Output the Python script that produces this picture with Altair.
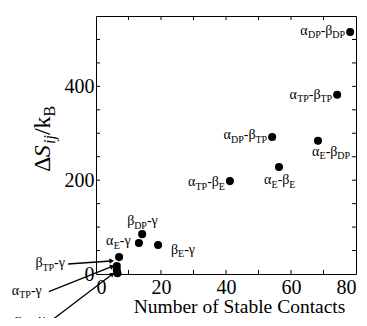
import math
import altair as alt
import pandas as pd

# ---------------- data ----------------
contacts = [78.2, 74.2, 54.2, 68.3, 56.3, 41.2, 14.2, 13.2, 19.1, 7.1, 6.4, 6.4, 6.6]
entropy = [516, 382, 292, 284, 228, 198, 85, 66, 62, 36, 17, 8.5, 1.5]
pair_labels = ["α_{DP}-β_{DP}", "α_{TP}-β_{TP}", "α_{DP}-β_{TP}", "α_{E}-β_{DP}",
               "α_{E}-β_{E}", "α_{TP}-β_{E}", "β_{DP}-γ", "", "β_{E}-γ", "α_{E}-γ",
               "β_{TP}-γ", "α_{TP}-γ", "α_{DP}-γ"]

# arrows for the crowded points near the origin (annotation positions, data units)
arrow_for = [10, 11, 12]
arrow_tail_x = [-8.6, -14.5, -13.5]
arrow_tail_y = [21.3, -37.7, -98.0]
arrow_tip_x = [4.6, 4.8, 4.9]
arrow_tip_y = [27.7, 15.6, -1.1]

x_label_values = [0, 20, 40, 60, 80]
y_label_values = [0, 200, 400]
x_minor = [10, 20, 30, 40, 50, 60, 70]
y_minor = [50, 100, 150, 200, 250, 300, 350, 400, 450, 500]

# ---------------- styles ----------------
W, H = 260, 258
XDOM, YDOM = [0, 80], [0, 550]
PXX, PXY = W / (XDOM[1] - XDOM[0]), H / (YDOM[1] - YDOM[0])
FONT = "Liberation Serif"
MAIN, SUB, SUBSHIFT = 14, 10, 3.5
# label placement relative to point (align, dx, dy) in pixels
placement = [("right", -5, 3), ("right", -5, 4), ("right", -5, 2), ("left", -6, 15),
             ("left", -15, 17), ("right", -5, 5), ("left", -15, -9), None,
             ("left", 13, 9), ("left", -13, -12),
             ("right", -3, 3), ("right", -7, 3), ("right", -7, 4)]
EM = {"α": 0.54, "β": 0.5, "γ": 0.45, "-": 0.333, "D": 0.722, "P": 0.556, "T": 0.611,
      "E": 0.611, "Δ": 0.612, "S": 0.556, "i": 0.278, "j": 0.278, "/": 0.278, "k": 0.5,
      "B": 0.667}


def parse(s):
    segs, i = [], 0
    while i < len(s):
        if s[i] == "_" and s[i + 1] == "{":
            j = s.index("}", i)
            segs.append((s[i + 2:j], True))
            i = j + 1
        else:
            j = i
            while j < len(s) and s[j] != "_":
                j += 1
            segs.append((s[i:j], False))
            i = j
    return segs


def width(t, size):
    return sum(EM.get(c, 0.5) for c in t) * size


x_sc = alt.Scale(domain=XDOM, nice=False, zero=False)
y_sc = alt.Scale(domain=YDOM, nice=False, zero=False)

pts = pd.DataFrame({"contacts": contacts, "entropy": entropy})

rows = []
for i, lab in enumerate(pair_labels):
    if not lab:
        continue
    align, dx, dy = placement[i]
    if i in arrow_for:
        k = arrow_for.index(i)
        ax, ay = arrow_tail_x[k], arrow_tail_y[k]
    else:
        ax, ay = contacts[i], entropy[i]
    segs = parse(lab)
    total = sum(width(t, SUB if s else MAIN) for t, s in segs)
    cur = dx if align == "left" else dx - total
    for t, s in segs:
        size = SUB if s else MAIN
        yo = dy + (SUBSHIFT if s else 0)
        rows.append({"x": ax + cur / PXX, "y": ay - yo / PXY, "size": size, "t": t})
        cur += width(t, size)
lab_df = pd.DataFrame(rows)

arr = pd.DataFrame({"x": arrow_tail_x, "y": arrow_tail_y, "x2": arrow_tip_x, "y2": arrow_tip_y})
arr["ang"] = [math.degrees(math.atan2((b - a) * PXX, (d - c) * PXY))
              for a, b, c, d in zip(arrow_tail_x, arrow_tip_x, arrow_tail_y, arrow_tip_y)]

# y title segments (rotated, reading upward), anchored in plot pixels
TX, TY = -46, 156
title_segs = [("Δ", False, False), ("S", False, True), ("ij", True, True), ("/", False, False),
              ("k", False, False), ("B", True, False)]
TMAIN, TSUB = 24, 16
trows, cur = [], 0.0
for t, s, it in title_segs:
    size = TSUB if s else TMAIN
    px = TX + (5 if s else 0)
    py = TY - cur
    trows.append({"t": t, "x": px / PXX, "y": (H - py) / PXY, "size": size, "it": it})
    cur += width(t, size)
tdf = pd.DataFrame(trows)

# ---------------- layers ----------------
xdf = pd.DataFrame({"v": x_minor})
ydf = pd.DataFrame({"v": y_minor})
TL = 4
tick_left = alt.Chart(ydf).mark_rule(color="black").encode(
    y=alt.Y("v:Q", scale=y_sc), x=alt.value(0), x2=alt.value(TL))
tick_right = alt.Chart(ydf).mark_rule(color="black").encode(
    y=alt.Y("v:Q", scale=y_sc), x=alt.value(W - TL), x2=alt.value(W))
tick_bot = alt.Chart(xdf).mark_rule(color="black").encode(
    x=alt.X("v:Q", scale=x_sc), y=alt.value(H), y2=alt.value(H - TL))
tick_top = alt.Chart(xdf).mark_rule(color="black").encode(
    x=alt.X("v:Q", scale=x_sc), y=alt.value(0), y2=alt.value(TL))

points = alt.Chart(pts).mark_circle(size=65, color="black", opacity=1).encode(
    x=alt.X("contacts:Q", scale=x_sc,
            axis=alt.Axis(values=x_label_values, ticks=False, tickSize=0, domain=False,
                          grid=False, labelFont=FONT, labelFontSize=20, labelPadding=3,
                          labelColor="black", title="Number of Stable Contacts",
                          titleFont=FONT, titleFontSize=19.5, titleFontWeight="normal",
                          titleColor="black", titleX=143, titleY=38, titleAlign="center",
                          titleBaseline="alphabetic")),
    y=alt.Y("entropy:Q", scale=y_sc,
            axis=alt.Axis(values=y_label_values, ticks=False, tickSize=0, domain=False,
                          grid=False, labelFont=FONT, labelFontSize=20, labelPadding=2,
                          labelColor="black", title=None)),
)

arrows = alt.Chart(arr).mark_rule(color="black", strokeWidth=1.3).encode(
    x=alt.X("x:Q", scale=x_sc), y=alt.Y("y:Q", scale=y_sc),
    x2="x2:Q", y2="y2:Q")
heads = alt.Chart(arr).mark_point(shape="triangle", filled=True, size=28, color="black",
                                  opacity=1).encode(
    x=alt.X("x2:Q", scale=x_sc), y=alt.Y("y2:Q", scale=y_sc),
    angle=alt.Angle("ang:Q", scale=None))

labels = alt.Chart(lab_df).mark_text(font=FONT, align="left", baseline="alphabetic",
                                     color="black").encode(
    x=alt.X("x:Q", scale=x_sc), y=alt.Y("y:Q", scale=y_sc),
    size=alt.Size("size:Q", scale=None, legend=None), text="t:N")

ytitle_base = alt.Chart(tdf).encode(
    x=alt.X("x:Q", scale=x_sc), y=alt.Y("y:Q", scale=y_sc),
    size=alt.Size("size:Q", scale=None, legend=None), text="t:N")
ytitle_n = ytitle_base.mark_text(font=FONT, align="left", baseline="alphabetic", angle=270,
                                 color="black").transform_filter("!datum.it")
ytitle_i = ytitle_base.mark_text(font=FONT, align="left", baseline="alphabetic", angle=270,
                                 fontStyle="italic", color="black").transform_filter("datum.it")

chart = alt.layer(points, tick_left, tick_right, tick_bot, tick_top, arrows, heads, labels,
                  ytitle_n, ytitle_i).properties(
    width=W, height=H,
    autosize=alt.AutoSizeParams(type="none"),
    padding={"left": 88, "top": 8, "right": 3, "bottom": 44},
    background="white",
).configure_view(stroke="black", strokeWidth=1)

chart.save("out.html", embed_options={"renderer": "svg", "actions": False})
